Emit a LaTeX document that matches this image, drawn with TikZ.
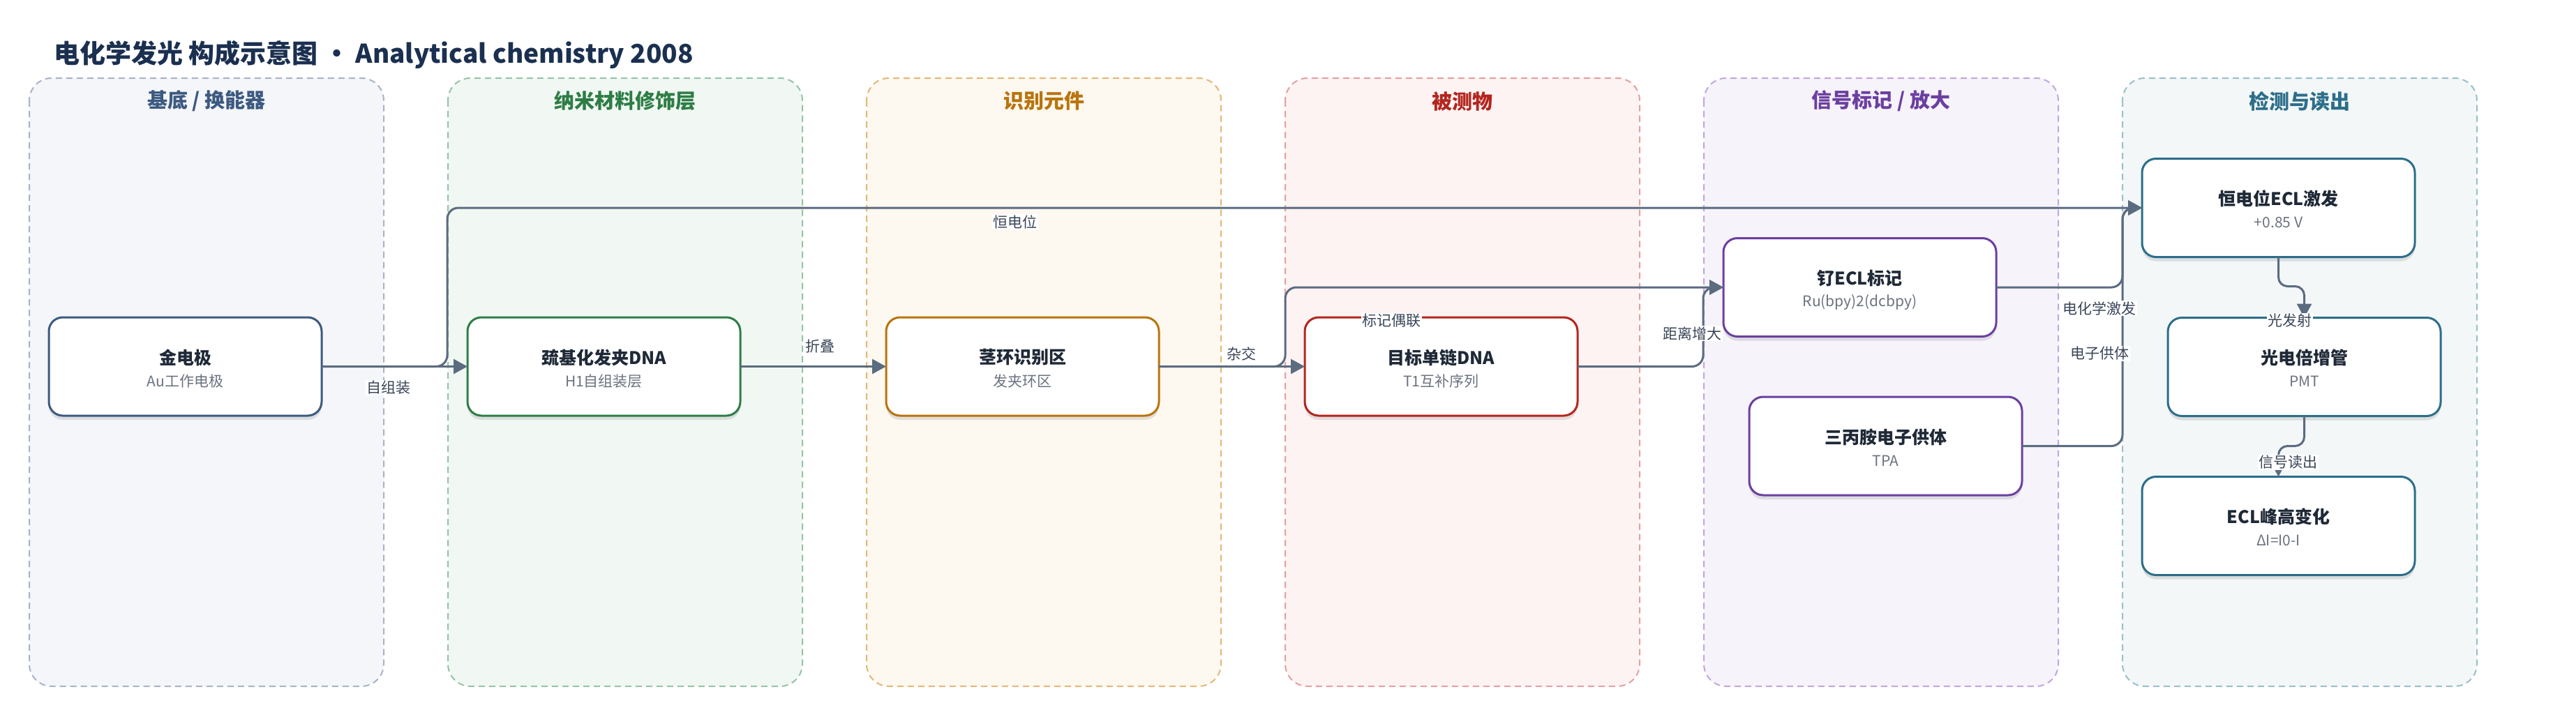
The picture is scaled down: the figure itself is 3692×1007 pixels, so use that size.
\documentclass[tikz,border=0pt]{standalone}
\usepackage{fontspec}
\setmainfont{Noto Sans CJK SC}
\usetikzlibrary{arrows.meta,shadows}
\definecolor{edgec}{HTML}{5B6B80}
\definecolor{labc}{HTML}{3A4558}
\definecolor{titc}{HTML}{1B3050}
\definecolor{ntit}{HTML}{1F2937}
\definecolor{nsub}{HTML}{6B7280}
\definecolor{hA}{HTML}{3D5A80}\definecolor{bA}{HTML}{A7B3C8}\definecolor{fA}{HTML}{F4F6FA}
\definecolor{hB}{HTML}{2E7D46}\definecolor{bB}{HTML}{94C4A5}\definecolor{fB}{HTML}{F1F8F3}
\definecolor{hC}{HTML}{B9740B}\definecolor{bC}{HTML}{E2B878}\definecolor{fC}{HTML}{FDF8F0}
\definecolor{hD}{HTML}{B3261E}\definecolor{bD}{HTML}{E3A0A0}\definecolor{fD}{HTML}{FDF3F3}
\definecolor{hE}{HTML}{6B3FA0}\definecolor{bE}{HTML}{C3A6DD}\definecolor{fE}{HTML}{F6F3FA}
\definecolor{hF}{HTML}{2C6E8A}\definecolor{bF}{HTML}{99BFCB}\definecolor{fF}{HTML}{F3F7F8}
\tikzset{
  lanebox/.style={draw=#1, dash pattern=on 9pt off 6pt, line width=2pt, rounded corners=32pt},
  lanehead/.style={font=\fontsize{29}{34}\selectfont\bfseries, text=#1, inner sep=0pt},
  card/.style={draw=#1, fill=white, line width=3pt, rounded corners=20pt,
    minimum width=391pt, minimum height=141pt, inner sep=0pt, outer sep=0pt,
    drop shadow={shadow xshift=0pt, shadow yshift=-6pt, fill=black, opacity=0.10}},
  ctitle/.style={font=\fontsize{25}{30}\selectfont\bfseries, text=ntit, inner sep=0pt},
  csub/.style={font=\fontsize{21}{25}\selectfont, text=nsub, inner sep=0pt},
  edge/.style={draw=edgec, line width=3pt, rounded corners=16pt, -{Triangle[length=20pt,width=21pt]}},
  elabel/.style={font=\fontsize{21}{25}\selectfont, text=labc, fill=white, inner sep=1.5pt}
}
\newcommand{\mkcard}[6]{%
  \node[card=#4] (#1) at (#2,#3) {};
  \node[ctitle] (#1-t) at ([yshift=13pt]#1.center) {#5};
  \node[csub] (#1-s) at ([yshift=-21pt]#1.center) {#6};}
\begin{document}
\begin{tikzpicture}[x=1pt,y=-1pt]
\useasboundingbox (0,0) rectangle (3692,1007);
\fill[white] (0,0) rectangle (3692,1007);
\node[anchor=west, font=\fontsize{37}{44}\selectfont\bfseries, text=titc, inner sep=0pt] (title) at (77,78) {电化学发光 构成示意图 • Analytical chemistry 2008};
% lanes
\fill[fA, rounded corners=32pt] (42,112) rectangle (550,984);
\draw[lanebox=bA] (42,112) rectangle (550,984);
\fill[fB, rounded corners=32pt] (642,112) rectangle (1150,984);
\draw[lanebox=bB] (642,112) rectangle (1150,984);
\fill[fC, rounded corners=32pt] (1242,112) rectangle (1750,984);
\draw[lanebox=bC] (1242,112) rectangle (1750,984);
\fill[fD, rounded corners=32pt] (1842,112) rectangle (2350,984);
\draw[lanebox=bD] (1842,112) rectangle (2350,984);
\fill[fE, rounded corners=32pt] (2442,112) rectangle (2950,984);
\draw[lanebox=bE] (2442,112) rectangle (2950,984);
\fill[fF, rounded corners=32pt] (3042,112) rectangle (3550,984);
\draw[lanebox=bF] (3042,112) rectangle (3550,984);
\node[lanehead=hA] (hdA) at (296,145) {基底 / 换能器};
\node[lanehead=hB] (hdB) at (896,145) {纳米材料修饰层};
\node[lanehead=hC] (hdC) at (1496,145) {识别元件};
\node[lanehead=hD] (hdD) at (2096,145) {被测物};
\node[lanehead=hE] (hdE) at (2696,145) {信号标记 / 放大};
\node[lanehead=hF] (hdF) at (3296,145) {检测与读出};
% edges (drawn first so cards sit on top)
\coordinate (au-e) at (462.5,525.5);
% cards
\mkcard{au}{265.5}{525.5}{hA}{金电极}{Au工作电极}
\mkcard{h1}{865.5}{525.5}{hB}{巯基化发夹DNA}{H1自组装层}
\mkcard{stem}{1465.5}{525.5}{hC}{茎环识别区}{发夹环区}
\mkcard{tgt}{2065.5}{525.5}{hD}{目标单链DNA}{T1互补序列}
\mkcard{ru}{2665.5}{412}{hE}{钌ECL标记}{Ru(bpy)2(dcbpy)}
\mkcard{tpa}{2702.5}{639.5}{hE}{三丙胺电子供体}{TPA}
\mkcard{ecl}{3265.5}{298}{hF}{恒电位ECL激发}{+0.85 V}
\mkcard{pmt}{3302.5}{526}{hF}{光电倍增管}{PMT}
\mkcard{peak}{3265.5}{754}{hF}{ECL峰高变化}{ΔI=I0-I}
% connectors
\draw[edge] (au.east) -- (h1.west);
\draw[edge] (au.east) -- ++(180,0) |- (ecl.west);
\draw[edge] (h1.east) -- (stem.west);
\draw[edge] (stem.east) -- (tgt.west);
\draw[edge] (stem.east) -- ++(181,0) |- (ru.west);
\draw[edge] (tgt.east) -- ++(180,0) |- (ru.west);
\draw[edge] (ru.east) -- ++(181,0) |- (ecl.west);
\draw[edge] (tpa.east) -- ++(144,0) |- (ecl.west);
\draw[edge, rounded corners=13pt] (ecl.south) -- ++(0,42) -| (pmt.north);
\draw[edge, rounded corners=13pt] (pmt.south) -- ++(0,43) -| (peak.north);
% edge labels
\node[elabel] (l1) at (557,556) {自组装};
\node[elabel] (l2) at (1455,318) {恒电位};
\node[elabel] (l3) at (1175,496) {折叠};
\node[elabel] (l4) at (1779,507) {杂交};
\node[elabel] (l5) at (1994,460) {标记偶联};
\node[elabel] (l6) at (2425,478) {距离增大};
\node[elabel] (l7) at (3009,442) {电化学激发};
\node[elabel] (l8) at (3009,507) {电子供体};
\node[elabel] (l9) at (3282,460) {光发射};
\node[elabel] (l10) at (3279,663) {信号读出};
\end{tikzpicture}
\end{document}
